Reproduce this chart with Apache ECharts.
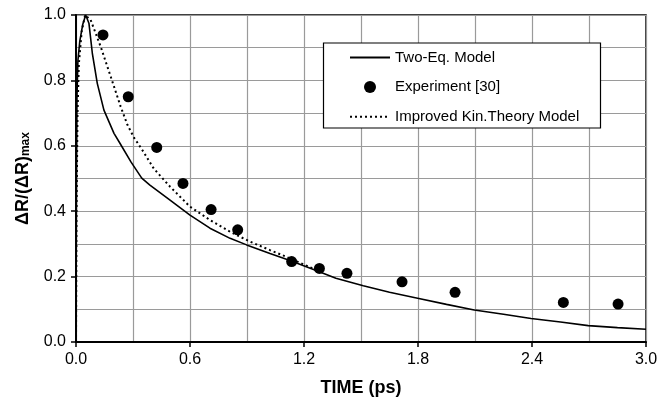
<!DOCTYPE html>
<html>
<head>
<meta charset="utf-8">
<script src="https://cdn.jsdelivr.net/npm/echarts@6/dist/echarts.min.js"></script>
<style>
  html, body { margin: 0; padding: 0; background: #fff; }
  #chart { width: 672px; height: 403px; }
</style>
</head>
<body>
<div id="chart"></div>
<script>
// Two-equation model (solid)
const twoEqT = [0, 0.002, 0.005, 0.01, 0.02, 0.035, 0.051, 0.068, 0.086, 0.112, 0.147, 0.2, 0.232, 0.29, 0.346, 0.389, 0.495, 0.6, 0.705, 0.811, 0.898, 1.021, 1.126, 1.25, 1.368, 1.512, 1.65, 1.798, 1.95, 2.096, 2.25, 2.395, 2.55, 2.696, 2.85, 3.0]
const twoEqY = [0, 0.4, 0.75, 0.86, 0.92, 0.97, 1.0, 0.975, 0.883, 0.791, 0.709, 0.638, 0.607, 0.55, 0.501, 0.48, 0.434, 0.388, 0.348, 0.317, 0.297, 0.271, 0.249, 0.222, 0.195, 0.172, 0.152, 0.134, 0.115, 0.098, 0.085, 0.072, 0.061, 0.05, 0.044, 0.039]

// Improved kinetic theory model (dotted)
const kinT = [0, 0.003, 0.008, 0.015, 0.03, 0.048, 0.077, 0.13, 0.183, 0.235, 0.27, 0.305, 0.346, 0.41, 0.495, 0.6, 0.705, 0.811, 0.916, 1.021, 1.126, 1.25]
const kinY = [0, 0.4, 0.7, 0.85, 0.95, 1.0, 0.985, 0.903, 0.811, 0.72, 0.665, 0.625, 0.59, 0.53, 0.475, 0.414, 0.373, 0.337, 0.307, 0.281, 0.256, 0.224]

// Experiment [30]
const expT = [0.142, 0.275, 0.425, 0.563, 0.711, 0.851, 1.135, 1.281, 1.426, 1.716, 1.995, 2.565, 2.853]
const expY = [0.939, 0.75, 0.595, 0.485, 0.405, 0.343, 0.246, 0.225, 0.21, 0.184, 0.152, 0.121, 0.116]

const legendNames = ['Two-Eq. Model', 'Experiment [30]', 'Improved Kin.Theory Model']

const zip = (a, b) => a.map((v, i) => [v, b[i]])
const fontFamily = 'Liberation Sans, Arial, sans-serif'

const chart = echarts.init(document.getElementById('chart'))
const option = {
  animation: false,
  grid: {
    left: 76, right: 26, top: 15, bottom: 61,
    show: true, borderColor: '#000', borderWidth: 1.5
  },
  graphic: [{
    type: 'rect',
    shape: { x: 323.5, y: 43, width: 277, height: 85 },
    style: { fill: '#fff', stroke: '#000', lineWidth: 1.2 },
    z: 50
  }],
  legend: {
    data: [
      { name: legendNames[0], itemStyle: { opacity: 0 } },
      { name: legendNames[1] },
      { name: legendNames[2], itemStyle: { opacity: 0 } }
    ],
    orient: 'vertical',
    left: 344,
    top: 45,
    itemWidth: 40,
    itemHeight: 12,
    itemGap: 14.6,
    z: 60,
    textStyle: { fontFamily: fontFamily, fontSize: 15, color: '#000' }
  },
  xAxis: {
    type: 'value',
    min: 0, max: 3, interval: 0.6,
    name: 'TIME (ps)',
    nameLocation: 'middle',
    nameGap: 37,
    nameTextStyle: { fontFamily: fontFamily, fontSize: 18, fontWeight: 'bold', color: '#000' },
    axisLine: { onZero: false, lineStyle: { color: '#000', width: 2 } },
    axisTick: { show: true, length: 5, lineStyle: { color: '#000', width: 1.5 } },
    axisLabel: { margin: 10, fontFamily: fontFamily, fontSize: 16, color: '#000', formatter: v => v.toFixed(1) },
    splitLine: { show: true, lineStyle: { color: '#9a9a9a', width: 1.2 } },
    minorTick: { show: false, splitNumber: 2 },
    minorSplitLine: { show: true, lineStyle: { color: '#9a9a9a', width: 1.2 } }
  },
  yAxis: {
    type: 'value',
    min: 0, max: 1, interval: 0.2,
    name: '{a|ΔR/(ΔR)}{b|max}',
    nameLocation: 'middle',
    nameGap: 44,
    nameTextStyle: {
      fontFamily: fontFamily, color: '#000',
      rich: {
        a: { fontFamily: fontFamily, fontSize: 18, fontWeight: 'bold', lineHeight: 18, verticalAlign: 'top', color: '#000' },
        b: { fontFamily: fontFamily, fontSize: 12, fontWeight: 'bold', lineHeight: 12, padding: [12, 0, 0, 0], verticalAlign: 'bottom', color: '#000' }
      }
    },
    axisLine: { show: true, lineStyle: { color: '#000', width: 2 } },
    axisTick: { show: true, length: 5, lineStyle: { color: '#000', width: 1.5 } },
    axisLabel: { margin: 10, fontFamily: fontFamily, fontSize: 16, color: '#000', formatter: v => v.toFixed(1) },
    splitLine: { show: true, lineStyle: { color: '#9a9a9a', width: 1.2 } },
    minorTick: { show: false, splitNumber: 2 },
    minorSplitLine: { show: true, lineStyle: { color: '#9a9a9a', width: 1.2 } }
  },
  series: [
    {
      name: legendNames[0],
      type: 'line',
      data: zip(twoEqT, twoEqY),
      showSymbol: false,
      symbol: 'none',
      color: '#000',
      lineStyle: { color: '#000', width: 1.6 },
      z: 3
    },
    {
      name: legendNames[1],
      type: 'scatter',
      data: zip(expT, expY),
      symbol: 'circle',
      symbolSize: 11,
      itemStyle: { color: '#000', opacity: 1 },
      z: 5
    },
    {
      name: legendNames[2],
      type: 'line',
      data: zip(kinT, kinY),
      showSymbol: false,
      symbol: 'none',
      color: '#000',
      lineStyle: { color: '#000', width: 2, type: [2, 3] },
      z: 4
    }
  ]
}
chart.setOption(option)
</script>
</body>
</html>
